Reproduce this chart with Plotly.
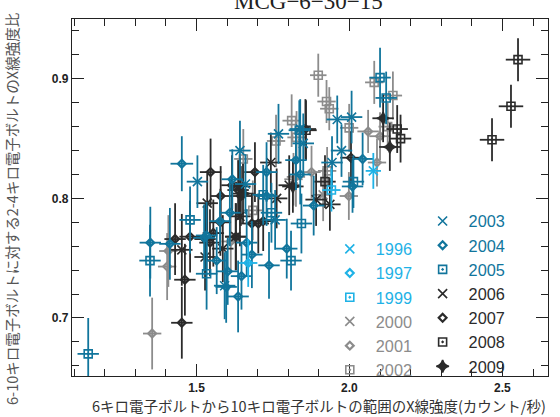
import plotly.graph_objects as go

# ---------------- data ----------------
years = ["1996", "1997", "1999", "2000", "2001", "2002",
         "2003", "2004", "2005", "2006", "2007", "2008", "2009"]

x_1996 = [2.078]
y_1996 = [0.823]
ex_1996 = [0.025]
ey_1996 = [0.015]

x_1997 = [1.669]
y_1997 = [0.746]
ex_1997 = [0.030]
ey_1997 = [0.020]

x_1999 = [1.941]
y_1999 = [0.807]
ex_1999 = [0.030]
ey_1999 = [0.018]

x_2000 = [1.914, 1.817]
y_2000 = [0.803, 0.816]
ex_2000 = [0.030, 0.030]
ey_2000 = [0.022, 0.022]

x_2001 = [2.061, 2.100, 2.090, 1.876, 1.998, 1.612, 1.408, 1.355, 1.825, 1.404]
y_2001 = [0.856, 0.852, 0.830, 0.822, 0.802, 0.764, 0.756, 0.687, 0.818, 0.743]
ex_2001 = [0.035, 0.035, 0.030, 0.030, 0.030, 0.030, 0.030, 0.030, 0.030, 0.030]
ey_2001 = [0.018, 0.020, 0.020, 0.022, 0.020, 0.025, 0.030, 0.030, 0.025, 0.028]

x_2002 = [1.898, 2.081, 2.142, 1.925, 1.934, 1.999, 2.125, 1.927, 1.811, 1.760, 1.827, 1.653, 1.684]
y_2002 = [0.903, 0.897, 0.886, 0.881, 0.875, 0.859, 0.860, 0.823, 0.865, 0.848, 0.851, 0.833, 0.790]
ex_2002 = [0.027, 0.030, 0.030, 0.030, 0.030, 0.030, 0.030, 0.030, 0.030, 0.030, 0.030, 0.030, 0.030]
ey_2002 = [0.018, 0.018, 0.020, 0.018, 0.018, 0.020, 0.020, 0.020, 0.022, 0.022, 0.022, 0.025, 0.025]

x_2003 = [1.960, 2.007, 1.974, 1.943, 1.839, 1.849, 1.768, 1.642, 1.757, 1.503, 1.660, 1.592]
y_2003 = [0.866, 0.868, 0.840, 0.830, 0.858, 0.846, 0.854, 0.840, 0.782, 0.814, 0.812, 0.727]
ex_2003 = [0.035, 0.035, 0.035, 0.035, 0.035, 0.035, 0.035, 0.035, 0.035, 0.035, 0.035, 0.035]
ey_2003 = [0.020, 0.022, 0.022, 0.022, 0.025, 0.025, 0.025, 0.025, 0.025, 0.022, 0.025, 0.028]

x_2004 = [2.043, 2.010, 1.839, 1.883, 1.664, 1.452, 1.349, 1.413, 1.617, 1.525, 1.566,
          1.602, 1.647, 1.681, 1.795, 1.737, 1.636, 1.597, 1.729, 1.825, 1.577, 1.729,
          1.609, 1.533]
y_2004 = [0.833, 0.810, 0.820, 0.794, 0.763, 0.829, 0.763, 0.762, 0.816, 0.767, 0.748,
          0.739, 0.735, 0.753, 0.758, 0.744, 0.718, 0.726, 0.822, 0.832, 0.781, 0.802,
          0.788, 0.769]
ex_2004 = [0.035, 0.035, 0.035, 0.035, 0.035, 0.037, 0.035, 0.035, 0.035, 0.035, 0.035,
           0.035, 0.035, 0.035, 0.035, 0.035, 0.035, 0.035, 0.035, 0.035, 0.035, 0.035,
           0.035, 0.035]
ey_2004 = [0.022, 0.022, 0.025, 0.025, 0.028, 0.023, 0.030, 0.030, 0.025, 0.028, 0.028,
           0.028, 0.028, 0.028, 0.025, 0.028, 0.030, 0.030, 0.025, 0.025, 0.025, 0.025,
           0.028, 0.028]

x_2005 = [2.100, 2.120, 2.013, 1.836, 1.843, 1.745, 1.479, 1.348, 1.533, 1.146, 1.809, 1.718]
y_2005 = [0.901, 0.884, 0.814, 0.857, 0.779, 0.788, 0.782, 0.748, 0.737, 0.670, 0.748, 0.803]
ex_2005 = [0.035, 0.035, 0.035, 0.035, 0.035, 0.035, 0.035, 0.035, 0.035, 0.035, 0.035, 0.035]
ey_2005 = [0.025, 0.022, 0.022, 0.025, 0.025, 0.025, 0.028, 0.030, 0.030, 0.030, 0.025, 0.025]

x_2006 = [1.743, 1.803, 1.891, 1.936, 1.535, 1.642, 1.762, 1.452, 1.586, 1.628, 1.642, 1.528]
y_2006 = [0.830, 0.811, 0.799, 0.795, 0.796, 0.810, 0.800, 0.757, 0.758, 0.768, 0.785, 0.751]
ex_2006 = [0.035, 0.035, 0.035, 0.035, 0.035, 0.035, 0.035, 0.035, 0.035, 0.035, 0.035, 0.035]
ey_2006 = [0.025, 0.025, 0.022, 0.022, 0.025, 0.025, 0.025, 0.030, 0.028, 0.028, 0.025, 0.028]

x_2007 = [2.005, 1.856, 1.546, 1.691, 1.579, 1.702, 1.578, 1.555, 1.629, 1.430, 1.479,
          1.528, 1.645, 1.681, 1.544, 1.462, 1.452, 1.718, 1.616, 1.636]
y_2007 = [0.834, 0.858, 0.822, 0.822, 0.802, 0.779, 0.780, 0.771, 0.768, 0.766, 0.768,
          0.766, 0.802, 0.779, 0.763, 0.732, 0.696, 0.781, 0.811, 0.807]
ex_2007 = [0.035, 0.035, 0.035, 0.035, 0.035, 0.035, 0.035, 0.035, 0.035, 0.035, 0.035,
           0.035, 0.035, 0.035, 0.035, 0.035, 0.035, 0.035, 0.035, 0.035]
ey_2007 = [0.022, 0.025, 0.028, 0.025, 0.025, 0.025, 0.028, 0.028, 0.028, 0.030, 0.030,
           0.028, 0.025, 0.025, 0.028, 0.030, 0.030, 0.025, 0.025, 0.025]

x_2008 = [2.551, 2.528, 2.466, 2.156, 2.167, 1.858, 1.920]
y_2008 = [0.916, 0.877, 0.849, 0.858, 0.850, 0.857, 0.814]
ex_2008 = [0.040, 0.040, 0.040, 0.035, 0.035, 0.035, 0.035]
ey_2008 = [0.018, 0.018, 0.018, 0.020, 0.020, 0.025, 0.022]

x_2009 = [2.110, 2.132, 1.815, 1.652]
y_2009 = [0.867, 0.843, 0.810, 0.804]
ex_2009 = [0.035, 0.035, 0.035, 0.035]
ey_2009 = [0.020, 0.020, 0.022, 0.025]

x_ticks = [1.5, 2.0, 2.5]
y_ticks = [0.7, 0.8, 0.9]

# ---------------- styling ----------------
CYAN = "#1fb2e6"
GRAY = "#8c8c8c"
TEAL = "#11759c"
BLACK = "#2b2b2b"

style = {
    "1996": (CYAN, "x-thin-open", "legend"),
    "1997": (CYAN, "diamond-open", "legend"),
    "1999": (CYAN, "square-open-dot", "legend"),
    "2000": (GRAY, "x-thin-open", "legend"),
    "2001": (GRAY, "diamond-open", "legend"),
    "2002": (GRAY, "square-open-dot", "legend"),
    "2003": (TEAL, "x-thin-open", "legend2"),
    "2004": (TEAL, "diamond-open", "legend2"),
    "2005": (TEAL, "square-open-dot", "legend2"),
    "2006": (BLACK, "x-thin-open", "legend2"),
    "2007": (BLACK, "diamond-open", "legend2"),
    "2008": (BLACK, "square-open-dot", "legend2"),
    "2009": (BLACK, "star-diamond", "legend2"),
}

data = {
    "1996": (x_1996, y_1996, ex_1996, ey_1996),
    "1997": (x_1997, y_1997, ex_1997, ey_1997),
    "1999": (x_1999, y_1999, ex_1999, ey_1999),
    "2000": (x_2000, y_2000, ex_2000, ey_2000),
    "2001": (x_2001, y_2001, ex_2001, ey_2001),
    "2002": (x_2002, y_2002, ex_2002, ey_2002),
    "2003": (x_2003, y_2003, ex_2003, ey_2003),
    "2004": (x_2004, y_2004, ex_2004, ey_2004),
    "2005": (x_2005, y_2005, ex_2005, ey_2005),
    "2006": (x_2006, y_2006, ex_2006, ey_2006),
    "2007": (x_2007, y_2007, ex_2007, ey_2007),
    "2008": (x_2008, y_2008, ex_2008, ey_2008),
    "2009": (x_2009, y_2009, ex_2009, ey_2009),
}

fig = go.Figure()
draw_order = ["2000", "2001", "2002", "2006", "2007", "2008", "2009",
              "2003", "2004", "2005", "1996", "1997", "1999"]
legend_order = {y: i for i, y in enumerate(years)}
for yr in draw_order:
    col, sym, lg = style[yr]
    xs, ys, exs, eys = data[yr]
    if "square" in sym:
        size, lw = 8, 1.6
    elif "diamond-open" in sym:
        size, lw = 6, 2.2
    else:
        size, lw = 9, 1.6
    fig.add_trace(go.Scatter(
        x=xs, y=ys, mode="markers",
        name=f"<span style='color:{col}'>{yr}</span>",
        legend=lg, legendrank=legend_order[yr],
        marker=dict(symbol=sym, size=size, color=col,
                    line=dict(width=lw, color=col)),
        error_x=dict(type="data", array=exs, thickness=1.8, width=0, color=col),
        error_y=dict(type="data", array=eys, thickness=1.8, width=0, color=col),
        hoverinfo="x+y",
    ))

tickfont = dict(family="Liberation Sans, Arial, sans-serif", size=12,
                color="#222", weight="bold")
fig.update_xaxes(
    range=[1.093, 2.649], tickvals=x_ticks, ticktext=[f"{v:.1f}" for v in x_ticks],
    ticks="inside", ticklen=12, tickwidth=1.3, tickcolor="#222",
    minor=dict(dtick=0.1, tick0=1.0, ticks="inside", ticklen=7,
               tickwidth=1.3, tickcolor="#222"),
    showline=True, linecolor="#222", linewidth=1.3, mirror="ticks",
    showgrid=False, zeroline=False, tickfont=tickfont,
)
fig.update_yaxes(
    range=[0.6515, 0.950], tickvals=y_ticks, ticktext=[f"{v:.1f}" for v in y_ticks],
    ticks="inside", ticklen=12, tickwidth=1.3, tickcolor="#222",
    minor=dict(dtick=0.02, tick0=0.6, ticks="inside", ticklen=7,
               tickwidth=1.3, tickcolor="#222"),
    showline=True, linecolor="#222", linewidth=1.3, mirror="ticks",
    showgrid=False, zeroline=False, tickfont=tickfont,
)

legend_common = dict(
    bgcolor="rgba(0,0,0,0)", borderwidth=0,
    font=dict(family="Liberation Sans, Arial, sans-serif", size=16.3),
    xanchor="left", yanchor="top", traceorder="normal",
    itemclick=False, itemdoubleclick=False, itemwidth=42,
)

fig.update_layout(
    width=560, height=417,
    margin=dict(l=72, r=12, t=19, b=41),
    paper_bgcolor="white", plot_bgcolor="white",
    showlegend=True,
    legend=dict(x=0.529, y=0.404, **legend_common),
    legend2=dict(x=0.724, y=0.482, **legend_common),
    annotations=[
        dict(text="MCG\u22126\u221230\u221215", xref="paper", yref="paper",
             x=0.496, y=1, yanchor="middle", yshift=18, showarrow=False,
             font=dict(family="Liberation Serif, Times New Roman, serif",
                       size=23, color="#222")),
        dict(text="6キロ電子ボルトから10キロ電子ボルトの範囲のX線強度(カウント/秒)",
             xref="paper", yref="paper", x=0.519, y=0, yanchor="middle",
             yshift=-29, showarrow=False,
             font=dict(family="Noto Sans CJK JP", size=14.5, color="#333")),
        dict(text="6-10キロ電子ボルトに対する2-4キロ電子ボルトのX線強度比",
             xref="paper", yref="paper", x=0, y=0.468, xanchor="center",
             xshift=-60, textangle=-90, showarrow=False,
             font=dict(family="Noto Sans CJK JP", size=14.5, color="#555")),
    ],
)

fig.write_html("out.html", config={"displayModeBar": False},
               post_script="document.body.style.margin='0';document.body.style.overflow='hidden';")
